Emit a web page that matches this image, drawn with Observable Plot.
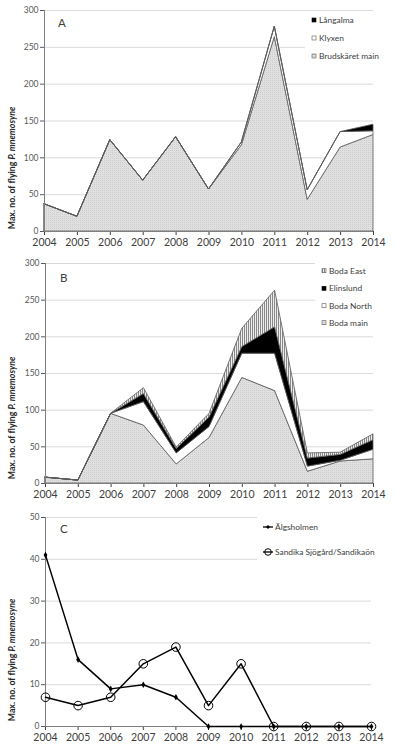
<!DOCTYPE html>
<html><head><meta charset="utf-8">
<script src="https://cdn.jsdelivr.net/npm/d3@7"></script>
<script src="https://cdn.jsdelivr.net/npm/@observablehq/plot@0.6"></script>
<style>
body{margin:0;background:#fff;}
#chart{width:395px;}
#chart svg{display:block;background:#fff;}
</style></head><body><div id="chart"></div>
<script>
const years = [2004,2005,2006,2007,2008,2009,2010,2011,2012,2013,2014];
// Panel A (stack bottom -> top)
const namesA = ["Brudskäret main","Klyxen","Långalma"];
const brudskaretMain = [37,20,124,69,128,57,117,264,43,114,131];
const klyxen = [0,0,0,0,0,0,4,14,13,21,5];
const langalma = [0,0,0,0,0,0,0,0,0,0,9];
// Panel B (stack bottom -> top)
const namesB = ["Boda main","Boda North","Elinslund","Boda East"];
const bodaMain = [8,4,95,79,26,62,144,126,16,30,33];
const bodaNorth = [0,0,0,32,15,15,33,51,7,1,13];
const elinslund = [0,0,0,11,6,13,9,36,11,8,13];
const bodaEast = [0,0,0,8,2,5,25,50,7,3,8];
// Panel C
const namesC = ["Älgsholmen","Sandika Sjögård/Sandikaön"];
const algsholmen = [41,16,9,10,7,0,0,0,0,0,0];
const sandika = [7,5,7,15,19,5,15,0,0,0,0];
// ticks
const yTicksAB = [0,50,100,150,200,250,300];
const yTicksC = [0,10,20,30,40,50];
const yTitle = ["Max. no. of flying ","P. mnemosyne"];

const FONT = "Lato, 'Open Sans', sans-serif";
const chart = document.getElementById("chart");

function longData(names, series){
  return names.flatMap((name,i)=>years.map((year,j)=>({year, name, value: series[i][j]})));
}

function addDefs(svg, id){
  const defs = d3.select(svg).insert("defs", ":first-child");
  const g = defs.append("pattern").attr("id","gray"+id).attr("patternUnits","userSpaceOnUse")
    .attr("width",2).attr("height",2);
  g.append("rect").attr("width",2).attr("height",2).attr("fill","#e0e0e0");
  g.append("rect").attr("width",1).attr("height",1).attr("fill","#cdcdcd");
  const s = defs.append("pattern").attr("id","stripe"+id).attr("patternUnits","userSpaceOnUse")
    .attr("width",2).attr("height",2);
  s.append("rect").attr("width",2).attr("height",2).attr("fill","#eeeeee");
  s.append("rect").attr("width",1).attr("height",2).attr("fill","#888888");
}

function addTitle(svg, cy){
  const t = d3.select(svg).append("text")
    .attr("transform",`translate(15,${cy}) rotate(-90)`)
    .attr("text-anchor","middle")
    .attr("font-family",FONT).attr("font-size",8.8).attr("font-weight","bold").attr("fill","#262626");
  t.append("tspan").text(yTitle[0]);
  t.append("tspan").attr("font-style","italic").text(yTitle[1]);
}

function addLetter(svg, x, y, letter){
  d3.select(svg).append("text").attr("x",x).attr("y",y).attr("dy","0.35em").attr("text-anchor","start")
    .attr("font-family",FONT).attr("font-size",11.5).attr("fill","#404040").text(letter);
}

function addSquareLegend(svg, box, items, x0, ys){
  const g = d3.select(svg).append("g").attr("text-anchor","start");
  g.append("rect").attr("x",box[0]).attr("y",box[1]).attr("width",box[2]).attr("height",box[3]).attr("fill","#fff");
  items.forEach((it,i)=>{
    g.append("rect").attr("x",x0).attr("y",ys[i]-2).attr("width",4).attr("height",4)
      .attr("fill",it.fill).attr("stroke",it.stroke).attr("stroke-width",0.6);
    g.append("text").attr("x",x0+7).attr("y",ys[i]).attr("dy","0.35em").attr("text-anchor","start")
      .attr("font-family",FONT).attr("font-size",8.4).attr("fill","#404040").text(it.name);
  });
}

function axes(yTicks, xFont){
  return [
    Plot.gridY(yTicks, {stroke:"#d9d9d9", strokeOpacity:1, strokeWidth:1}),
    Plot.axisY(yTicks, {tickSize:4, tickPadding:2, fontSize:8.5, color:"#595959", label:null}),
    Plot.axisX(years, {tickSize:4, tickPadding:3, fontSize:xFont, color:"#404040", tickFormat:d=>String(d), label:null}),
  ];
}

// ---------- Panel A ----------
{
  const data = longData(namesA, [brudskaretMain, klyxen, langalma]);
  const fills = ["url(#grayA)","#ffffff","#000000"];
  const svg = Plot.plot({
    width:395, height:250, marginTop:10, marginBottom:19, marginLeft:44, marginRight:22,
    style:{fontFamily:FONT, background:"#fff"},
    x:{domain:[years[0], years[years.length-1]]},
    y:{domain:[0,300]},
    color:{domain:namesA, range:fills},
    marks:[
      ...axes(yTicksAB, 10.5),
      Plot.areaY(data,{x:"year", y:"value", z:"name", fill:"name", stroke:"#5a5a5a", strokeWidth:0.8}),
      Plot.ruleY([0],{stroke:"#7f7f7f"}),
      Plot.ruleX([years[0]],{stroke:"#7f7f7f"})
    ]
  });
  addDefs(svg,"A");
  addTitle(svg,168);
  addLetter(svg,58,23,"A");
  addSquareLegend(svg,[305,12,75,52],
    [{name:namesA[2],fill:"#000",stroke:"#000"},{name:namesA[1],fill:"#fff",stroke:"#595959"},{name:namesA[0],fill:"url(#grayA)",stroke:"#595959"}],
    312,[20,38,56]);
  chart.appendChild(svg);
}

// ---------- Panel B ----------
{
  const data = longData(namesB, [bodaMain, bodaNorth, elinslund, bodaEast]);
  const fills = ["url(#grayB)","#ffffff","#000000","url(#stripeB)"];
  const svg = Plot.plot({
    width:395, height:250, marginTop:13, marginBottom:17, marginLeft:45, marginRight:22,
    style:{fontFamily:FONT, background:"#fff"},
    x:{domain:[years[0], years[years.length-1]]},
    y:{domain:[0,300]},
    color:{domain:namesB, range:fills},
    marks:[
      ...axes(yTicksAB, 10.5),
      Plot.areaY(data,{x:"year", y:"value", z:"name", fill:"name", stroke:"#5a5a5a", strokeWidth:0.8}),
      Plot.ruleY([0],{stroke:"#7f7f7f"}),
      Plot.ruleX([years[0]],{stroke:"#7f7f7f"})
    ]
  });
  addDefs(svg,"B");
  addTitle(svg,168);
  addLetter(svg,60,28,"B");
  addSquareLegend(svg,[315,9,72,72],
    [{name:namesB[3],fill:"url(#stripeB)",stroke:"#595959"},{name:namesB[2],fill:"#000",stroke:"#000"},{name:namesB[1],fill:"#fff",stroke:"#595959"},{name:namesB[0],fill:"url(#grayB)",stroke:"#595959"}],
    322,[20.7,38.3,55.7,72.7]);
  chart.appendChild(svg);
}

// ---------- Panel C ----------
{
  const dA = years.map((year,j)=>({year, value:algsholmen[j]}));
  const dS = years.map((year,j)=>({year, value:sandika[j]}));
  const svg = Plot.plot({
    width:395, height:251, marginTop:17, marginBottom:25, marginLeft:45, marginRight:24,
    style:{fontFamily:FONT, background:"#fff"},
    x:{domain:[years[0], years[years.length-1]]},
    y:{domain:[0,50]},
    marks:[
      ...axes(yTicksC, 10.5),
      Plot.ruleY([0],{stroke:"#7f7f7f"}),
      Plot.ruleX([years[0]],{stroke:"#7f7f7f"}),
      Plot.line(dA,{x:"year", y:"value", stroke:"#000", strokeWidth:1.5}),
      Plot.line(dS,{x:"year", y:"value", stroke:"#000", strokeWidth:1.5}),
      Plot.dot(dS,{x:"year", y:"value", r:4.3, stroke:"#000", fill:"none", strokeWidth:1}),
      Plot.dot(dA,{x:"year", y:"value", r:2, symbol:"diamond", fill:"#000", stroke:"none"})
    ]
  });
  addTitle(svg,160);
  addLetter(svg,60,29,"C");
  const g = d3.select(svg).append("g").attr("text-anchor","start");
  g.append("rect").attr("x",257).attr("y",12).attr("width",120).attr("height",53).attr("fill","#fff");
  [[27,"a"],[52,"s"]].forEach(([y,k],i)=>{
    g.append("line").attr("x1",263).attr("x2",273).attr("y1",y).attr("y2",y).attr("stroke","#000").attr("stroke-width",1.3);
    if(k==="a"){
      g.append("path").attr("d",`M268,${y-2}L270,${y}L268,${y+2}L266,${y}Z`).attr("fill","#000");
    } else {
      g.append("circle").attr("cx",268).attr("cy",y).attr("r",3.3).attr("fill","none").attr("stroke","#000").attr("stroke-width",1);
    }
    g.append("text").attr("x",275).attr("y",y).attr("dy","0.35em").attr("text-anchor","start")
      .attr("font-family",FONT).attr("font-size",8.4).attr("fill","#404040").text(namesC[i]);
  });
  chart.appendChild(svg);
}
</script></body></html>
